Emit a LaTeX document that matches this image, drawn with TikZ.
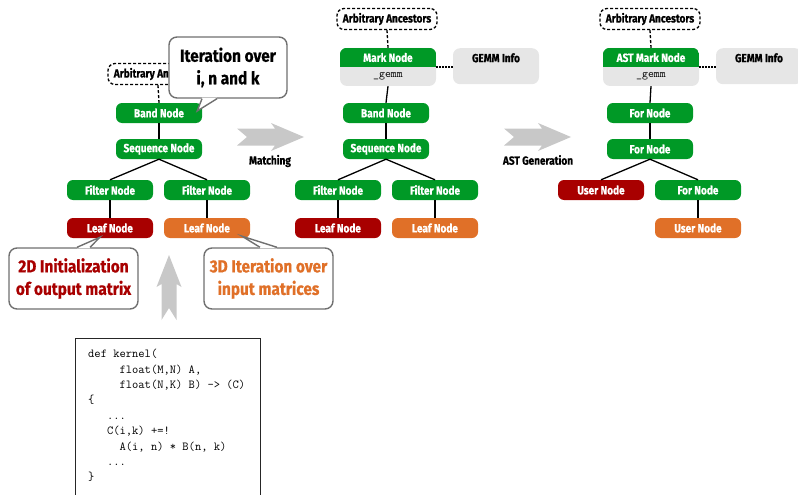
\documentclass[tikz,border=0pt]{standalone}
\usepackage{fontspec}
\newfontfamily\labelfont{Fira Sans}[FakeStretch=0.85, FakeBold=0.6]
\newfontfamily\bubblefont{Fira Sans}[FakeStretch=0.88, FakeBold=0.6]
\usetikzlibrary{calc}

\definecolor{ngreen}{RGB}{0,153,38}
\definecolor{nred}{RGB}{168,0,0}
\definecolor{norange}{RGB}{224,112,40}
\definecolor{ngray}{RGB}{230,230,230}
\definecolor{agray}{RGB}{200,200,200}
\definecolor{cgray}{RGB}{112,112,112}

\tikzset{
  x=1pt, y=-1pt,
  nfont/.style={font=\labelfont\bfseries\fontsize{11.8}{13}\selectfont},
  tnode/.style={nfont, rounded corners=6pt, minimum width=86pt,
    minimum height=20pt, inner sep=0pt, text=white},
  gnode/.style={tnode, fill=ngreen},
  rnode/.style={tnode, fill=nred},
  onode/.style={tnode, fill=norange},
  ancnode/.style={nfont, draw=black, dash pattern=on 3pt off 2pt,
    line width=1.3pt, rounded corners=7pt, fill=white, minimum width=100pt,
    minimum height=21pt, inner sep=0pt},
  infonode/.style={nfont, fill=ngray, rounded corners=7pt,
    minimum width=86pt, inner ysep=0pt, text height=14pt, text depth=22pt},
  markbox/.style={fill=ngray, rounded corners=7pt, minimum width=96pt,
    minimum height=38pt, inner sep=0pt},
  marktitle/.style={nfont, text=white, inner sep=0pt},
  marksub/.style={font=\ttfamily\fontsize{11.5}{13}\selectfont, inner sep=0pt},
  link/.style={line width=1.3pt, black},
  anclink/.style={line width=1.3pt, black, dash pattern=on 3pt off 2pt},
  infolink/.style={line width=1.5pt, black, dash pattern=on 1.5pt off 1.5pt},
  bubble/.style={draw=cgray, line width=1.4pt, fill=white,
    rounded corners=8pt, align=center,
    font=\bubblefont\bfseries\fontsize{17.5}{22.5}\selectfont, inner sep=0pt,
    minimum height=61pt},
  bubbleedge/.style={draw=cgray, line width=1.4pt, fill=white, line join=miter},
  steplabel/.style={nfont, inner sep=0pt},
  harrow/.pic={\fill[agray] (0,-8.5) -- (38,-8.5) -- (34,-14) -- (67,0)
    -- (34,14) -- (38,8.5) -- (0,8.5) -- (10,0) -- cycle;},
  varrow/.pic={\fill[agray] (0,-7.5) -- (36,-7.5) -- (33,-12.5) -- (65,0)
    -- (33,12.5) -- (36,7.5) -- (0,7.5) -- (12,0) -- cycle;},
}

\begin{document}
\begin{tikzpicture}
\useasboundingbox (0,0) rectangle (798,495);
\clip (0,0) rectangle (798,495);

% ---------- schedule tree before matching ----------
\node[ancnode] (anc1) at (158,74) {Arbitrary Ancestors};
\node[gnode] (band1) at (159,113) {Band Node};
\node[gnode] (seq1) at (159,149) {Sequence Node};
\node[gnode] (filt1a) at (110,190) {Filter Node};
\node[gnode] (filt1b) at (207,190) {Filter Node};
\node[rnode] (leaf1a) at (110,228) {Leaf Node};
\node[onode] (leaf1b) at (207,228) {Leaf Node};
\draw[anclink] (anc1.south) -- (band1.north);
\draw[link] (band1) -- (seq1);
\draw[link] (seq1.south) -- (filt1a.north);
\draw[link] (seq1.south) -- (filt1b.north);
\draw[link] (filt1a) -- (leaf1a);
\draw[link] (filt1b) -- (leaf1b);

% ---------- speech bubbles ----------
\node[bubble, minimum width=118pt] (iter) at (228,67.5)
  {Iteration over\\i, n and k};
\coordinate (iterTip) at ($(band1.east)+(-5,-2)$);
\path[bubbleedge, draw=none] ($(iter.south)+(-26,-1)$) -- (iterTip)
  -- ($(iter.south)+(-11,-1)$) -- cycle;
\draw[bubbleedge, fill=none] ($(iter.south)+(-26,0)$) -- (iterTip)
  -- ($(iter.south)+(-11,0)$);

\node[bubble, minimum width=129pt, text=nred] (init) at (73.5,278.5)
  {2D Initialization\\of output matrix};
\coordinate (initTip) at ($(leaf1a.south)+(-10,-1)$);
\path[bubbleedge, draw=none] ($(init.north)+(3.5,1)$) -- (initTip)
  -- ($(init.north)+(16.5,1)$) -- cycle;
\draw[bubbleedge, fill=none] ($(init.north)+(3.5,0)$) -- (initTip)
  -- ($(init.north)+(16.5,0)$);

\node[bubble, minimum width=129pt, text=norange] (iter3d) at (268.5,278.5)
  {3D Iteration over\\input matrices};
\coordinate (iter3dTip) at ($(leaf1b.south)+(35,-2)$);
\path[bubbleedge, draw=none] ($(iter3d.north)+(-8.5,1)$) -- (iter3dTip)
  -- ($(iter3d.north)+(8.5,1)$) -- cycle;
\draw[bubbleedge, fill=none] ($(iter3d.north)+(-8.5,0)$) -- (iter3dTip)
  -- ($(iter3d.north)+(8.5,0)$);

% ---------- input kernel ----------
\node[anchor=north west, align=left, inner sep=0pt,
  font=\ttfamily\fontsize{12.2}{15.4}\selectfont] (code) at (88,349)
  {def kernel(\\
   \phantom{00000}float(M,N) A,\\
   \phantom{00000}float(N,K) B) -> (C)\\
   \{\\
   \phantom{000}...\\
   \phantom{000}C(i,k) +=!\\
   \phantom{00000}A(i, n) * B(n, k)\\
   \phantom{000}...\\
   \}};
\draw[line width=1pt, black!85] ($(code.north west)+(-13,505)$) |- ($(code.north west)+(172,-11)$) -- ++(0,200);
\pic at (169,320) [rotate=90] {varrow};

% ---------- matching step ----------
\pic at (237,137) {harrow};
\node[steplabel] (lmatch) at (270,161) {Matching};

% ---------- schedule tree after matching ----------
\node[ancnode] (anc2) at (387,19) {Arbitrary Ancestors};
\node[markbox] (mark2) at (388,67) {};
\begin{scope}
  \clip[rounded corners=7pt] (mark2.north west) rectangle (mark2.south east);
  \fill[ngreen] (mark2.north west) rectangle ($(mark2.east)+(0,0)$);
\end{scope}
\node[marktitle] (mark2t) at (388,57.5) {Mark Node};
\node[marksub] (mark2s) at (388,76.5) {\_gemm};
\node[infonode, anchor=north] (gemm2) at (496,48) {GEMM Info};
\node[gnode] (band2) at (386,113) {Band Node};
\node[gnode] (seq2) at (386,149) {Sequence Node};
\node[gnode] (filt2a) at (338,190) {Filter Node};
\node[gnode] (filt2b) at (435,190) {Filter Node};
\node[rnode] (leaf2a) at (338,228) {Leaf Node};
\node[onode] (leaf2b) at (435,228) {Leaf Node};
\draw[anclink] (anc2.south) -- (mark2.north);
\draw[infolink] (mark2.east) -- (gemm2.west |- mark2.east);
\draw[link] (mark2.south) -- (band2.north);
\draw[link] (band2) -- (seq2);
\draw[link] (seq2.south) -- (filt2a.north);
\draw[link] (seq2.south) -- (filt2b.north);
\draw[link] (filt2a) -- (leaf2a);
\draw[link] (filt2b) -- (leaf2b);

% ---------- AST generation step ----------
\pic at (504,137) {harrow};
\node[steplabel] (lgen) at (538,160) {AST Generation};

% ---------- generated AST ----------
\node[ancnode] (anc3) at (650,19) {Arbitrary Ancestors};
\node[markbox] (mark3) at (651,67) {};
\begin{scope}
  \clip[rounded corners=7pt] (mark3.north west) rectangle (mark3.south east);
  \fill[ngreen] (mark3.north west) rectangle ($(mark3.east)+(0,0)$);
\end{scope}
\node[marktitle] (mark3t) at (651,57.5) {AST Mark Node};
\node[marksub] (mark3s) at (651,76.5) {\_gemm};
\node[infonode, anchor=north] (gemm3) at (759,48) {GEMM Info};
\node[gnode] (for3a) at (650,113) {For Node};
\node[gnode] (for3b) at (650,149) {For Node};
\node[rnode] (user3a) at (601,190) {User Node};
\node[gnode] (for3c) at (698,190) {For Node};
\node[onode] (user3b) at (698,228) {User Node};
\draw[anclink] (anc3.south) -- (mark3.north);
\draw[infolink] (mark3.east) -- (gemm3.west |- mark3.east);
\draw[link] (mark3.south) -- (for3a.north);
\draw[link] (for3a) -- (for3b);
\draw[link] (for3b.south) -- (user3a.north);
\draw[link] (for3b.south) -- (for3c.north);
\draw[link] (for3c) -- (user3b);
\end{tikzpicture}
\end{document}
